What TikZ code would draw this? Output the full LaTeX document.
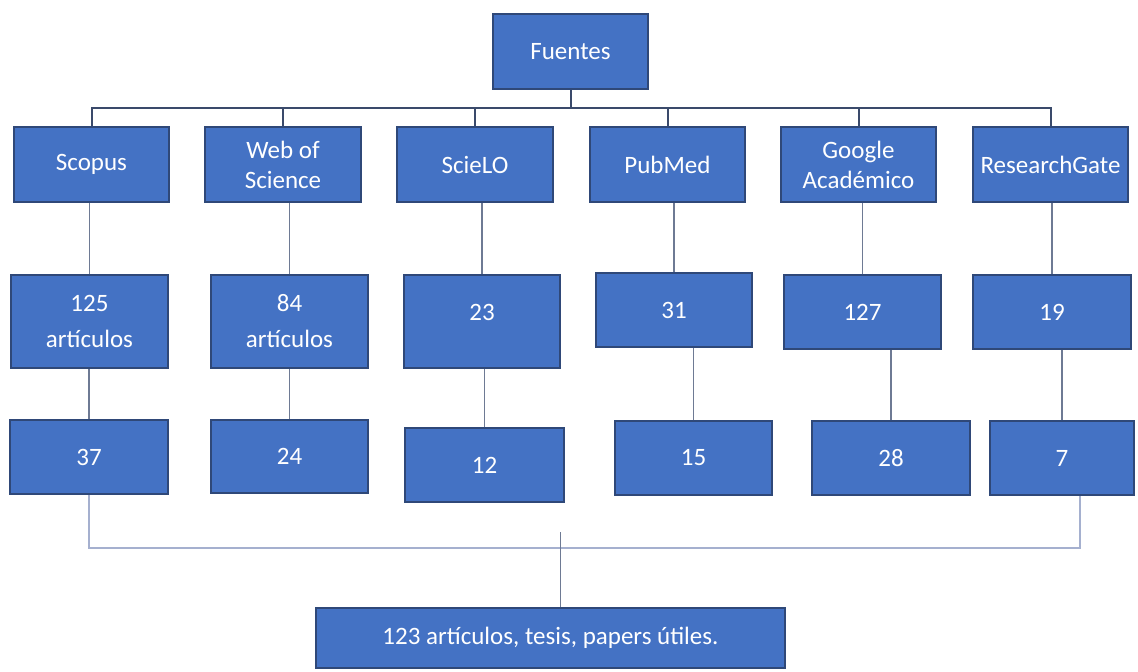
\documentclass[tikz,border=0pt]{standalone}
\usepackage{fontspec}
\setmainfont{Carlito}
\usepackage{tikz}
\definecolor{boxblue}{RGB}{68, 114, 196}
\definecolor{boxedge}{RGB}{47, 72, 120}
\definecolor{trunkline}{RGB}{58, 74, 107}
\definecolor{branchline}{RGB}{110, 122, 148}
\definecolor{tailline}{RGB}{165, 176, 207}

\tikzset{
  caja/.style={draw=boxedge, fill=boxblue, line width=1.5pt, text=white, align=center,
               inner sep=0pt, minimum width=#1, font=\fontsize{25}{30}\selectfont},
  caja/.default=156pt,
  ancha/.style={font=\fontsize{25}{36}\selectfont},
  trunk/.style={trunkline, line width=2pt},
  branch/.style={branchline, line width=1.4pt},
  tail/.style={tailline, line width=2.5pt}
}

\begin{document}
\begin{tikzpicture}[x=1pt, y=-1pt]
            \useasboundingbox (0,0) rectangle (1138,672);
            % fuentes
            \node[caja=155pt, minimum height=75pt] (fuentes) at (570.5, 51.5) {Fuentes};
            \node[caja=155pt, minimum height=75pt] (scopus) at ( 91.5,164.5) {Scopus};
            \node[caja,       minimum height=75pt] (wos)    at (283.0,164.5) {Web of\\Science};
            \node[caja,       minimum height=75pt] (scielo) at (475.0,164.5) {ScieLO};
            \node[caja=155pt, minimum height=75pt] (pubmed) at (667.5,164.5) {PubMed};
            \node[caja=155pt, minimum height=75pt] (google) at (858.5,164.5) {Google\\Académico};
            \node[caja=155pt, minimum height=75pt] (rgate)  at (1050.5,164.5) {ResearchGate};
            % encontrados
            \node[caja=157pt, ancha, minimum height=93pt] (n125) at ( 89.5,321.5) {125\\artículos};
            \node[caja=157pt, ancha, minimum height=93pt] (n84)  at (289.5,321.5) {84\\artículos};
            \node[caja, minimum height=93pt, text depth=18pt] (n23) at (482.0,321.5) {23};
            \node[caja,       minimum height=74pt] (n31)  at (674.0,310.0) {31};
            \node[caja=157pt, minimum height=74pt] (n127) at (862.5,312.0) {127};
            \node[caja=158pt, minimum height=74pt] (n19)  at (1052.0,312.0) {19};
            % seleccionados
            \node[caja=158pt, minimum height=74pt] (n37) at ( 89.0,457.0) {37};
            \node[caja=157pt, minimum height=73pt] (n24) at (289.5,456.5) {24};
            \node[caja=159pt, minimum height=74pt] (n12) at (484.5,465.0) {12};
            \node[caja=157pt, minimum height=74pt] (n15) at (693.5,458.0) {15};
            \node[caja=158pt, minimum height=74pt] (n28) at (891.0,458.0) {28};
            \node[caja=144pt, minimum height=74pt] (n7)  at (1062.0,458.0) {7};
            \node[caja=469pt, minimum height=60pt] (final) at (550.5,638.0) {123 artículos, tesis, papers útiles.};

            \draw[trunk] (fuentes.south) -- ++(0,18) coordinate (bus);
            \foreach \s in {scopus,wos,scielo,pubmed,google,rgate}
                \draw[trunk] (bus) -| (\s.north);
            \foreach \a/\b in {scopus/n125,wos/n84,scielo/n23,pubmed/n31,google/n127,rgate/n19,
                               n125/n37,n84/n24,n23/n12,n31/n15,n127/n28,n19/n7}
                \draw[branch] (\b.north) -- (\b.north |- \a.south);
            \coordinate (cola) at ([xshift=18pt]n7.south);
            \draw[tail] (n37.south) -- ++(0,53) -| (cola);
            \draw[branch] ([xshift=10pt]final.north) -- ++(0,-75);
        \end{tikzpicture}
\end{document}
